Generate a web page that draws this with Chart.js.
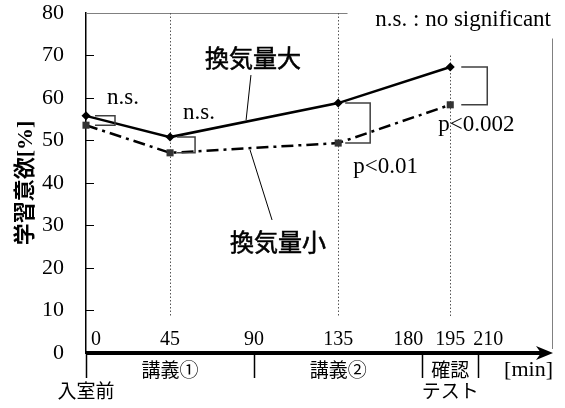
<!DOCTYPE html>
<html>
<head>
<meta charset="utf-8">
<script src="https://cdn.jsdelivr.net/npm/chart.js@4.4.0/dist/chart.umd.min.js"></script>
<style>
  body { margin: 0; background: #fff; }
</style>
</head>
<body>
<canvas id="chart" width="565" height="408"></canvas>
<script>
// time points (min) and motivation values (%)
const minutes = [0, 45, 135, 195];
const highVent = [55.8, 50.8, 58.8, 67.3];   // 換気量大
const lowVent = [53.6, 47.1, 49.4, 58.4];    // 換気量小
const seriesNames = ['換気量大', '換気量小'];

// axis labels
const xTicks = [0, 45, 90, 135, 180, 195, 210];
const yTicks = [0, 10, 20, 30, 40, 50, 60, 70, 80];
const periodEdges = [0, 90, 180, 210];
const periodNames = [['講義①'], ['講義②'], ['確認', 'テスト']];
const startName = '入室前';
const pLabels = ['n.s.', 'n.s.', 'p<0.01', 'p<0.002'];

const SERIF = "'Liberation Serif', 'Noto Sans CJK JP', serif";
const SANS = "'Noto Sans CJK JP', sans-serif";

// extra drawing: time axis arrow, period labels, brackets, notes
const decor = {
  id: 'decor',
  beforeDatasetsDraw(chart) {
    const { ctx, chartArea: a, scales: { x, y } } = chart;
    ctx.save();
    // frame, partly covered by the note
    ctx.strokeStyle = '#808080';
    ctx.lineWidth = 1;
    ctx.beginPath();
    ctx.moveTo(a.left, Math.round(a.top) + 0.5);
    ctx.lineTo(x.getPixelForValue(140), Math.round(a.top) + 0.5);
    ctx.moveTo(Math.round(a.right) - 0.5, y.getPixelForValue(74));
    ctx.lineTo(Math.round(a.right) - 0.5, a.bottom - 4);
    ctx.stroke();
    // dotted guides at the measurement times
    ctx.strokeStyle = '#555';
    ctx.setLineDash([1.5, 2]);
    const tops = [80, 80, 70];
    minutes.slice(1).forEach((m, i) => {
      const px = Math.round(x.getPixelForValue(m)) + 0.5;
      ctx.beginPath();
      ctx.moveTo(px, y.getPixelForValue(tops[i]));
      ctx.lineTo(px, y.getPixelForValue(8.5));
      ctx.stroke();
    });
    ctx.restore();
  },
  afterDatasetsDraw(chart) {
    const { ctx, chartArea: a, scales: { x, y } } = chart;
    const y0 = y.getPixelForValue(0);
    ctx.save();
    ctx.fillStyle = '#000';
    ctx.strokeStyle = '#000';

    // period dividers under the axis
    ctx.lineWidth = 1.5;
    ctx.beginPath();
    periodEdges.forEach(m => {
      const px = Math.round(x.getPixelForValue(m)) + 0.5;
      ctx.moveTo(px, y0);
      ctx.lineTo(px, y0 + 25);
    });
    ctx.stroke();

    // time axis with arrow head
    ctx.lineWidth = 4;
    ctx.beginPath();
    ctx.moveTo(a.left, y0);
    ctx.lineTo(a.right - 10, y0);
    ctx.stroke();
    ctx.beginPath();
    ctx.moveTo(a.right, y0);
    ctx.lineTo(a.right - 17, y0 - 7);
    ctx.lineTo(a.right - 12, y0);
    ctx.lineTo(a.right - 17, y0 + 7);
    ctx.closePath();
    ctx.fill();

    // minute labels above the axis
    ctx.font = '20px ' + SERIF;
    ctx.textAlign = 'center';
    ctx.textBaseline = 'middle';
    const nudge = { 0: 10, 180: -14, 210: 10 };
    xTicks.forEach(m => {
      ctx.fillText(String(m), x.getPixelForValue(m) + (nudge[m] || 0), y0 - 13);
    });

    // period names under the axis
    ctx.font = '19px ' + SERIF;
    periodNames.forEach((lines, i) => {
      const cx = x.getPixelForValue((periodEdges[i] + periodEdges[i + 1]) / 2);
      lines.forEach((t, k) => ctx.fillText(t, cx, y0 + 19 + k * 21));
    });
    ctx.fillText(startName, x.getPixelForValue(0), y0 + 40);
    ctx.font = '22px ' + SERIF;
    ctx.textAlign = 'right';
    ctx.fillText('[min]', a.right, y0 + 17);

    // significance brackets
    ctx.strokeStyle = '#404040';
    ctx.lineWidth = 1.5;
    const bx = [[9, 29], [7, 25], [7, 32], [11, 37]];
    minutes.forEach((m, i) => {
      const px = x.getPixelForValue(m);
      const yh = y.getPixelForValue(highVent[i]);
      const yl = y.getPixelForValue(lowVent[i]);
      ctx.beginPath();
      ctx.moveTo(px + bx[i][0], yh);
      ctx.lineTo(px + bx[i][1], yh);
      ctx.lineTo(px + bx[i][1], yl);
      ctx.lineTo(px + bx[i][0], yl);
      ctx.stroke();
    });

    // p values
    ctx.font = '23px ' + SERIF;
    ctx.textAlign = 'left';
    const pPos = [[21, -18, 0], [13, -24, 0], [15, 24, 1], [-12, 20, 1]];
    minutes.forEach((m, i) => {
      const [dx, dy, low] = pPos[i];
      const v = low ? lowVent[i] : highVent[i];
      ctx.fillText(pLabels[i], x.getPixelForValue(m) + dx, y.getPixelForValue(v) + dy);
    });

    // series names with leader lines (regular weight, lightly stroked)
    ctx.font = '24px ' + SANS;
    ctx.strokeStyle = '#000';
    ctx.lineWidth = 0.6;
    const names = [[seriesNames[0], 63.7, 69.4], [seriesNames[1], 77.1, 26.1]];
    names.forEach(([t, mx, vy]) => {
      ctx.fillText(t, x.getPixelForValue(mx), y.getPixelForValue(vy));
      ctx.strokeText(t, x.getPixelForValue(mx), y.getPixelForValue(vy));
    });
    ctx.lineWidth = 1;
    ctx.beginPath();
    ctx.moveTo(x.getPixelForValue(88.3), y.getPixelForValue(65.4));
    ctx.lineTo(x.getPixelForValue(85.7), y.getPixelForValue(54.8));
    ctx.moveTo(x.getPixelForValue(87.8), y.getPixelForValue(47.8));
    ctx.lineTo(x.getPixelForValue(99.6), y.getPixelForValue(31.3));
    ctx.stroke();

    // note in the top right corner
    ctx.font = '23px ' + SERIF;
    ctx.textAlign = 'right';
    ctx.fillText('n.s. : no significant', a.right - 2, a.top + 7);
    ctx.restore();
  }
};

const ctx = document.getElementById('chart').getContext('2d');

const chart = new Chart(ctx, {
  type: 'line',
  data: {
    datasets: [{
      label: seriesNames[0],
      data: minutes.map((m, i) => ({ x: m, y: highVent[i] })),
      borderColor: '#000',
      backgroundColor: '#000',
      borderWidth: 2.5,
      pointStyle: 'rectRot',
      pointRadius: 4.5,
      pointBorderWidth: 0,
      clip: false
    }, {
      label: seriesNames[1],
      data: minutes.map((m, i) => ({ x: m, y: lowVent[i] })),
      borderColor: '#000',
      backgroundColor: '#333',
      borderWidth: 2.5,
      borderDash: [12, 5, 3, 5],
      pointStyle: 'rect',
      pointRadius: 5,
      pointBorderWidth: 0,
      clip: false
    }]
  },
  options: {
    responsive: false,
    animation: false,
    layout: { padding: { top: 13, right: 12, bottom: 55, left: 0 } },
    plugins: {
      legend: { display: false },
      tooltip: { enabled: false }
    },
    scales: {
      x: {
        type: 'linear',
        min: 0,
        max: 250,
        display: false
      },
      y: {
        min: 0,
        max: 80,
        afterBuildTicks: s => { s.ticks = yTicks.map(v => ({ value: v })); },
        afterFit: s => { s.width = 86; s.paddingTop = 0; s.paddingBottom = 0; },
        grid: { drawOnChartArea: false, tickLength: -8, color: '#000', lineWidth: 1 },
        border: { color: '#000', width: 1.5 },
        ticks: { color: '#000', padding: 30, font: { family: SERIF, size: 22 } },
        title: {
          display: true,
          text: '学習意欲[%]',
          color: '#000',
          font: { family: SERIF, size: 22, weight: 'bold' },
          padding: { top: 13, bottom: 0 }
        }
      }
    }
  },
  plugins: [decor]
});
</script>
</body>
</html>
